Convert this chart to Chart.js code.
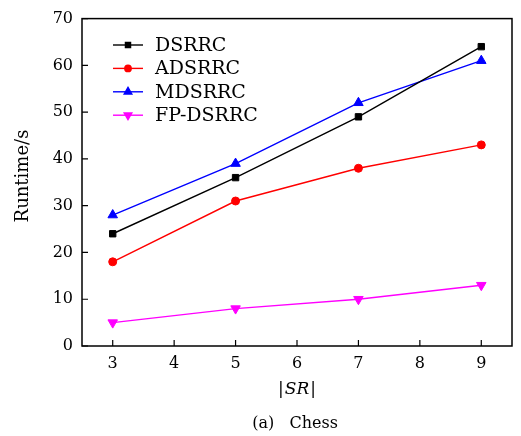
<!DOCTYPE html>
<html>
<head>
<meta charset="utf-8">
<script src="https://cdn.jsdelivr.net/npm/chart.js@4.4.1/dist/chart.umd.min.js"></script>
<style>
  html, body { margin: 0; padding: 0; background: #fff; }
  #wrap { width: 521px; height: 436px; }
</style>
</head>
<body>
<div id="wrap"><canvas id="myChart" width="521" height="436"></canvas></div>
<script>
  // data
  var srValues = [3, 5, 7, 9];
  var dsrrc = [24, 36, 49, 64];
  var adsrrc = [18, 31, 38, 43];
  var mdsrrc = [28, 39, 52, 61];
  var fpDsrrc = [5, 8, 10, 13];
  var xTicks = [3, 4, 5, 6, 7, 8, 9];
  var yTicks = [0, 10, 20, 30, 40, 50, 60, 70];

  var serif = "'DejaVu Serif', 'Liberation Serif', serif";

  function pts(values) {
    return values.map(function (v, i) { return { x: srValues[i], y: v }; });
  }

  function mkSet(label, values, color, style, rot, radius) {
    return {
      label: label,
      data: pts(values),
      borderColor: color,
      backgroundColor: color,
      borderWidth: 1.4,
      pointStyle: style,
      pointRotation: rot,
      pointRadius: radius,
      pointBorderWidth: 1,
      tension: 0
    };
  }

  // box, inward ticks, legend and axis titles
  var decor = {
    id: "decor",
    afterDraw: function (chart) {
      var ctx = chart.ctx;
      var a = chart.chartArea;
      var xs = chart.scales.x, ys = chart.scales.y;
      ctx.save();
      ctx.strokeStyle = "#000";
      ctx.lineWidth = 1.5;
      ctx.strokeRect(a.left, a.top, a.right - a.left, a.bottom - a.top);

      ctx.lineWidth = 1.2;
      ctx.beginPath();
      xTicks.forEach(function (v) {
        var px = xs.getPixelForValue(v);
        ctx.moveTo(px, a.bottom);
        ctx.lineTo(px, a.bottom - 6);
      });
      yTicks.forEach(function (v) {
        var py = ys.getPixelForValue(v);
        ctx.moveTo(a.left, py);
        ctx.lineTo(a.left + 6, py);
      });
      ctx.stroke();

      // legend
      ctx.font = "19px " + serif;
      ctx.textBaseline = "middle";
      ctx.textAlign = "left";
      chart.data.datasets.forEach(function (ds, i) {
        var y = 45 + i * 23.4;
        ctx.strokeStyle = ds.borderColor;
        ctx.lineWidth = 1.4;
        ctx.beginPath();
        ctx.moveTo(113, y);
        ctx.lineTo(143, y);
        ctx.stroke();
        ctx.fillStyle = ds.backgroundColor;
        Chart.helpers.drawPoint(ctx, {
          pointStyle: ds.pointStyle,
          rotation: ds.pointRotation,
          radius: ds.pointRadius * 0.8,
          borderWidth: 1
        }, 128, y);
        ctx.fillStyle = "#000";
        ctx.fillText(ds.label, 155, y + 1);
      });

      // y title
      ctx.save();
      ctx.translate(23, 176);
      ctx.rotate(-Math.PI / 2);
      ctx.textAlign = "center";
      ctx.font = "18px " + serif;
      ctx.fillText("Runtime/s", 0, 0);
      ctx.restore();

      // x title |SR| with italic SR
      ctx.font = "17px " + serif;
      var bar = "|";
      var wBar = ctx.measureText(bar).width;
      ctx.font = "italic 17px " + serif;
      var wSR = ctx.measureText("SR").width;
      var total = wBar * 2 + wSR + 2;
      var x0 = 297 - total / 2;
      ctx.textAlign = "left";
      ctx.font = "17px " + serif;
      ctx.fillText(bar, x0, 390);
      ctx.font = "italic 17px " + serif;
      ctx.fillText("SR", x0 + wBar + 1, 390);
      ctx.font = "17px " + serif;
      ctx.fillText(bar, x0 + wBar + wSR + 2, 390);

      // caption
      ctx.font = "16px " + serif;
      ctx.textAlign = "center";
      ctx.fillText("(a)   Chess", 295, 424);
      ctx.restore();
    }
  };

  var ctx = document.getElementById("myChart").getContext("2d");
  var chart = new Chart(ctx, {
    type: "line",
    data: {
      datasets: [
        mkSet("DSRRC", dsrrc, "#000000", "rect", 0, 4.5),
        mkSet("ADSRRC", adsrrc, "#ff0000", "circle", 0, 4),
        mkSet("MDSRRC", mdsrrc, "#0000ff", "triangle", 0, 5.5),
        mkSet("FP-DSRRC", fpDsrrc, "#ff00ff", "triangle", 180, 5.5)
      ]
    },
    options: {
      responsive: false,
      animation: false,
      layout: { padding: { top: 15, right: 9, left: 0, bottom: 0 } },
      plugins: {
        legend: { display: false },
        tooltip: { enabled: false }
      },
      scales: {
        x: {
          type: "linear",
          min: 2.5,
          max: 9.5,
          afterBuildTicks: function (scale) {
            scale.ticks = xTicks.map(function (v) { return { value: v }; });
          },
          afterFit: function (scale) { scale.height = 90; },
          grid: { display: false, drawTicks: false },
          border: { display: false },
          ticks: {
            color: "#000",
            padding: 8,
            maxRotation: 0,
            font: { family: serif, size: 16 }
          }
        },
        y: {
          min: 0,
          max: 70,
          afterBuildTicks: function (scale) {
            scale.ticks = yTicks.map(function (v) { return { value: v }; });
          },
          afterFit: function (scale) { scale.width = 82; },
          grid: { display: false, drawTicks: false },
          border: { display: false },
          ticks: {
            color: "#000",
            padding: 9,
            font: { family: serif, size: 16 }
          }
        }
      }
    },
    plugins: [decor]
  });
</script>
</body>
</html>
